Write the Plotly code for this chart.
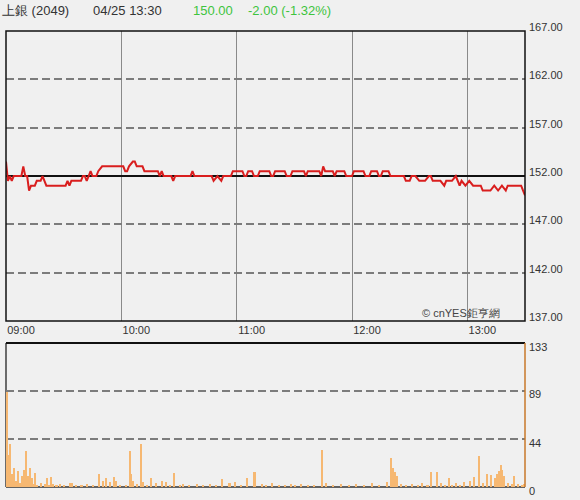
import plotly.graph_objects as go

# ---------------- data ----------------
stock_name = "上銀 (2049)"
stamp = "04/25 13:30"
last_price = "150.00"
change_text = "-2.00 (-1.32%)"
prev_close = 152.0

# minutes after 09:00 and trade price
price_minute = [0, 1, 2, 3, 4, 8, 9, 10, 11, 12, 13, 15, 16, 18, 19, 20, 21, 31, 32, 33,
                34, 39, 40, 41, 42, 43, 44, 45, 47, 48, 50, 61, 62, 63, 64, 66, 67, 68, 71, 72,
                79, 80, 81, 82, 86, 87, 88, 96, 97, 98, 107, 108, 110, 112, 113, 117, 118, 123, 124, 125,
                126, 128, 129, 131, 132, 137, 138, 139, 140, 145, 146, 148, 149, 155, 156, 157, 163, 164, 165, 166,
                170, 171, 172, 176, 177, 180, 181, 186, 187, 189, 190, 193, 194, 195, 196, 199, 200, 207, 208, 210,
                211, 213, 215, 218, 220, 221, 222, 226, 228, 229, 232, 234, 236, 237, 239, 241, 243, 245, 247, 248,
                250, 252, 254, 256, 258, 260, 261, 263, 268, 269, 270]
price_value = [153.5, 151.5, 152, 151.5, 152, 152, 153, 152, 152, 150.5, 151, 151, 151.5, 151.5, 152, 151.5, 151, 151, 151.5, 151,
               151.5, 151.5, 152, 152, 151.5, 152, 152.5, 152, 152, 152.5, 153, 153, 152.5, 152.5, 153, 153.5, 153.5, 153, 153, 152.5,
               152.5, 152, 152.5, 152, 152, 151.5, 152, 152, 152.5, 152, 152, 151.5, 152, 151.5, 152, 152, 152.5, 152.5, 152, 152,
               152.5, 152.5, 152, 152, 152.5, 152.5, 152, 152, 152.5, 152.5, 152, 152, 152.5, 152.5, 152, 152.5, 152.5, 152, 153, 152.5,
               152.5, 152, 152.5, 152.5, 152, 152, 152.5, 152.5, 152, 152, 152.5, 152.5, 152, 152, 152.5, 152.5, 152, 152, 151.5, 151.5,
               152, 152, 151.5, 151.5, 152, 152, 151.5, 151.5, 151, 151.5, 151.5, 152, 151, 151.5, 151, 151.5, 151, 151, 151, 150.5,
               150.5, 150.5, 151, 150.5, 151, 150.5, 151, 151, 151, 150.5, 150]

# minutes after 09:00 and volume (lots)
vol_minute = [0, 1, 2, 3, 4, 5, 6, 7, 8, 9, 10, 11, 12, 13, 14, 15, 16, 18, 20, 21,
              22, 23, 24, 26, 28, 30, 33, 34, 36, 39, 42, 45, 48, 50, 52, 54, 56, 57, 59, 62,
              64, 65, 66, 68, 70, 71, 73, 75, 78, 81, 83, 85, 87, 90, 92, 95, 99, 102, 106, 109,
              112, 116, 119, 122, 125, 129, 133, 135, 138, 142, 145, 148, 150, 153, 157, 160, 164, 166, 170, 174,
              178, 182, 186, 190, 194, 198, 200, 201, 202, 203, 205, 208, 211, 214, 216, 219, 221, 224, 226, 228,
              230, 232, 234, 236, 238, 241, 243, 246, 248, 250, 252, 254, 255, 256, 257, 258, 259, 261, 263, 264,
              266, 268, 269]
vol_value = [88, 30, 40, 12, 18, 6, 15, 4, 10, 16, 33, 10, 18, 8, 3, 13, 2, 4, 3, 8,
             2, 9, 3, 2, 3, 2, 4, 4, 2, 2, 3, 2, 12, 6, 8, 5, 9, 6, 2, 2,
             33, 12, 6, 3, 40, 5, 2, 8, 4, 6, 5, 2, 13, 2, 3, 2, 3, 2, 3, 2,
             7, 4, 5, 2, 8, 14, 3, 2, 4, 2, 2, 3, 2, 3, 2, 2, 34, 4, 2, 3,
             2, 3, 2, 4, 2, 5, 27, 18, 14, 10, 3, 2, 3, 2, 4, 2, 14, 14, 4, 2,
             8, 2, 4, 2, 5, 6, 9, 29, 4, 12, 11, 8, 12, 15, 20, 16, 10, 4, 3, 10,
             3, 2, 3]

price_ticks = [137, 142, 147, 152, 157, 162, 167]
vol_ticks = [0, 44, 89, 133]
time_tick_minute = [0, 60, 120, 180, 240]
time_tick_label = ["09:00", "10:00", "11:00", "12:00", "13:00"]
session_minute = [0, 270]

# ---------------- figure ----------------
FONT = "Arial, Liberation Sans, sans-serif"
BG = "#f0f0f0"
GREEN = "#3ec43e"

fig = go.Figure()
fig.add_trace(go.Bar(x=vol_minute, y=vol_value, xaxis="x2", yaxis="y2",
                     width=0.8, offset=0, marker=dict(color="#f6b872", line=dict(width=0)),
                     hoverinfo="skip"))
# previous close reference line
fig.add_trace(go.Scatter(x=session_minute, y=[prev_close] * len(session_minute), mode="lines",
                         line=dict(color="#111111", width=2), hoverinfo="skip"))
fig.add_trace(go.Scatter(x=price_minute, y=price_value, mode="lines",
                         line=dict(color="#d91e1e", width=2), hoverinfo="skip"))

fig.update_layout(
    width=580, height=500,
    margin=dict(l=6, r=55, t=31, b=13, autoexpand=False),
    paper_bgcolor=BG, plot_bgcolor=BG,
    showlegend=False,
    font=dict(family=FONT, size=11, color="#333333"),
    xaxis=dict(domain=[0, 1], range=[0, 270], anchor="y", automargin=False,
               tickvals=time_tick_minute, ticktext=time_tick_label,
               showgrid=True, gridcolor="#8a8a8a", gridwidth=1.2,
               zeroline=False, showline=False, ticks="",
               ticklabelshift=15, ticklabelstandoff=1),
    yaxis=dict(domain=[0.364, 1], range=[137, 167], side="right", automargin=False,
               tickvals=price_ticks, tickformat=".2f",
               showgrid=True, gridcolor="#7c7c7c", gridwidth=1.6, griddash="8px,4px",
               zeroline=False, showline=False, ticks="",
               ticklabelshift=-4, ticklabelstandoff=3),
    xaxis2=dict(domain=[0, 1], range=[0, 270], anchor="y2", automargin=False,
                showticklabels=False, showgrid=False, zeroline=False, showline=False, ticks=""),
    yaxis2=dict(domain=[0, 0.3158], range=[0, 133], side="right", automargin=False,
                tickvals=vol_ticks,
                showgrid=True, gridcolor="#7c7c7c", gridwidth=1.6, griddash="8px,4px",
                zeroline=False, showline=False, ticks="",
                ticklabelshift=4, ticklabelstandoff=3),
    bargap=0,
)

shapes = [
    # price panel border
    dict(type="rect", xref="x domain", yref="y domain", x0=0, x1=1, y0=0, y1=1,
         line=dict(color="#111111", width=1.5)),
    # volume panel borders
    dict(type="line", xref="x2 domain", yref="y2 domain", x0=0, x1=1, y0=1, y1=1,
         line=dict(color="#111111", width=2)),
    dict(type="line", xref="x2 domain", yref="y2 domain", x0=0, x1=0, y0=0, y1=1,
         line=dict(color="#111111", width=1.2), layer="below"),
    dict(type="line", xref="x2 domain", yref="y2 domain", x0=0, x1=1, y0=0, y1=0,
         line=dict(color="#333333", width=1.5), layer="below"),
    dict(type="line", xref="x2 domain", yref="y2 domain", x0=1, x1=1, y0=0, y1=1,
         line=dict(color="#c8782a", width=1.5)),
]
fig.update_layout(shapes=shapes)

def header(text, xpix, color):
    return dict(text=text, xref="paper", yref="paper", x=0, y=1,
                xanchor="left", yanchor="middle", xshift=xpix - 6, yshift=21,
                showarrow=False, font=dict(family=FONT, size=13, color=color))

annotations = [
    header(stock_name, 0, "#333333"),
    header(stamp, 91, "#333333"),
    header(last_price, 191, GREEN),
    header(change_text, 246, GREEN),
    dict(text="© cnYES鉅亨網", xref="x domain", yref="y domain", x=0.956, y=0,
         xanchor="right", yanchor="bottom", yshift=0, showarrow=False,
         font=dict(family=FONT, size=11, color="#444444")),
]
fig.update_layout(annotations=annotations)

fig.write_html("out.html", config={"displayModeBar": False},
               post_script="document.body.style.margin='0';document.body.style.background='#f0f0f0';")
